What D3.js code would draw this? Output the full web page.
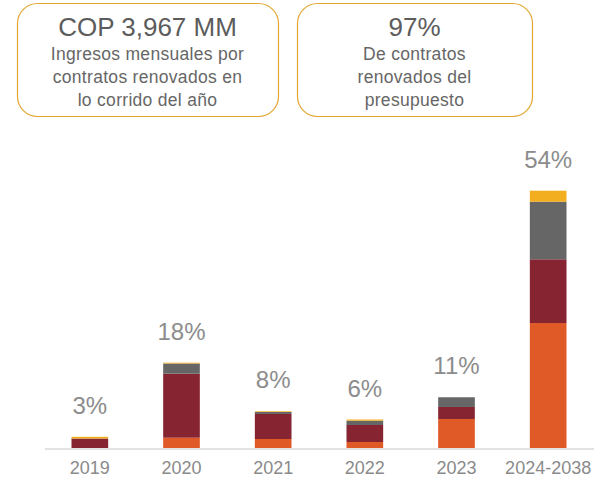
<!DOCTYPE html>
<html>
<head>
<meta charset="utf-8">
<script src="https://cdn.jsdelivr.net/npm/d3@7"></script>
<style>
  body { margin: 0; background: #fff; }
  svg text { font-family: "Liberation Sans", Arial, sans-serif; }
</style>
</head>
<body>
<div id="chart"></div>
<script>
// categories and stacked series (share of total, %)
var years = ["2019", "2020", "2021", "2022", "2023", "2024-2038"];
var serieNaranja = [0, 2.16, 1.89, 1.26, 6.09, 26.23];
var serieVino    = [1.99, 13.43, 5.25, 3.57, 2.52, 13.37];
var serieGris    = [0, 2.14, 0.42, 0.90, 2.04, 12.09];
var serieAmarilla = [0.36, 0.17, 0.15, 0.25, 0, 2.31];
var etiquetas = ["3%", "18%", "8%", "6%", "11%", "54%"];

var seriesKeys = ["naranja", "vino", "gris", "amarilla"];
var colores = {naranja: "#e05a27", vino: "#862431", gris: "#666666", amarilla: "#f3ae1f"};

// KPI boxes
var cajas = [
  {titulo: "COP 3,967 MM", lineas: ["Ingresos mensuales por", "contratos renovados en", "lo corrido del año"], x0: 17, x1: 278},
  {titulo: "97%", lineas: ["De contratos", "renovados del", "presupuesto"], x0: 297, x1: 532}
];

var width = 594, height = 480;
var svg = d3.select("#chart").append("svg")
  .attr("width", width)
  .attr("height", height);

// boxes
var caja = svg.selectAll(".caja")
  .data(cajas)
  .enter().append("g")
  .attr("class", "caja");

caja.append("rect")
  .attr("x", function(d) { return d.x0 + 0.5; })
  .attr("y", 3.5)
  .attr("width", function(d) { return d.x1 - d.x0; })
  .attr("height", 113)
  .attr("rx", 20)
  .attr("fill", "none")
  .attr("stroke", "#e3a630")
  .attr("stroke-width", 1.2);

caja.append("text")
  .attr("x", function(d) { return (d.x0 + d.x1) / 2; })
  .attr("y", 36)
  .attr("text-anchor", "middle")
  .attr("font-size", 26)
  .attr("fill", "#5c5c5c")
  .text(function(d) { return d.titulo; });

caja.each(function(d) {
  var g = d3.select(this);
  d.lineas.forEach(function(l, i) {
    g.append("text")
      .attr("x", (d.x0 + d.x1) / 2)
      .attr("y", 60 + i * 23)
      .attr("text-anchor", "middle")
      .attr("font-size", 17.5)
      .attr("letter-spacing", 0.3)
      .attr("fill", "#666666")
      .text(l);
  });
});

// chart
var x = d3.scaleBand()
  .domain(years)
  .range([44, 594])
  .paddingInner(0.6)
  .paddingOuter(0.3);

var y = d3.scaleLinear()
  .domain([0, 54])
  .range([448, 190.7]);

var tabla = years.map(function(yr, i) {
  return {year: yr, naranja: serieNaranja[i], vino: serieVino[i], gris: serieGris[i], amarilla: serieAmarilla[i]};
});

var stack = d3.stack().keys(seriesKeys)(tabla);

svg.append("g")
  .selectAll("g")
  .data(stack)
  .enter().append("g")
  .attr("fill", function(d) { return colores[d.key]; })
  .selectAll("rect")
  .data(function(d) { return d; })
  .enter().append("rect")
  .attr("x", function(d) { return x(d.data.year); })
  .attr("width", x.bandwidth())
  .attr("y", function(d) { return y(d[1]); })
  .attr("height", function(d) { return y(d[0]) - y(d[1]); });

// axis
var xAxis = svg.append("g")
  .attr("transform", "translate(0,449)")
  .call(d3.axisBottom(x).tickSize(0).tickPadding(12));
xAxis.select(".domain").remove();
xAxis.append("line")
  .attr("x1", 45).attr("x2", 594)
  .attr("stroke", "#d9d9d9")
  .attr("stroke-width", 1.6);
xAxis.selectAll(".tick text")
  .attr("font-family", "Liberation Sans, Arial, sans-serif")
  .attr("font-size", 18)
  .attr("fill", "#8a8a8a");

// total labels
var totales = tabla.map(function(d) { return d.naranja + d.vino + d.gris + d.amarilla; });
svg.append("g")
  .selectAll("text")
  .data(years)
  .enter().append("text")
  .attr("x", function(d) { return x(d) + x.bandwidth() / 2; })
  .attr("y", function(d, i) { return y(totales[i]) - 23; })
  .attr("text-anchor", "middle")
  .attr("font-size", 24)
  .attr("fill", "#8c8c8c")
  .text(function(d, i) { return etiquetas[i]; });
</script>
</body>
</html>
